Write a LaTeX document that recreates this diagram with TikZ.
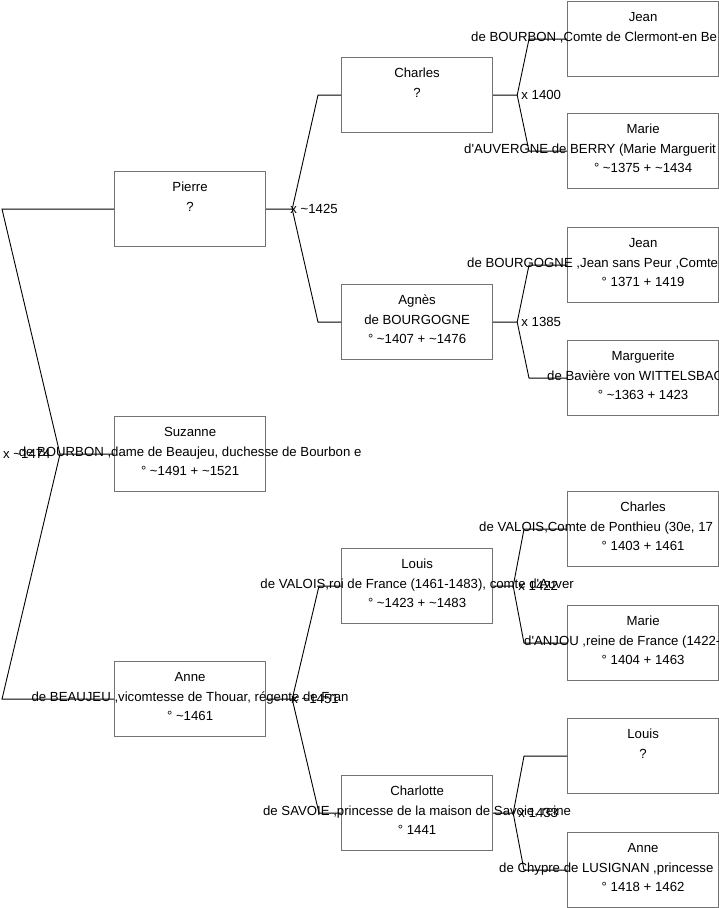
\documentclass[tikz,border=0pt]{standalone}
\usepackage{fontspec}
\setmainfont{Liberation Sans}
\usepackage{tikz}
\usetikzlibrary{positioning}

\tikzset{
  person/.style={draw=black!55, line width=1.2pt, minimum width=151pt,
                 minimum height=75pt, inner sep=0pt, anchor=north west},
  txt/.style={font=\fontsize{13.2}{15}\selectfont, anchor=base, inner sep=0pt},
  wed/.style={font=\fontsize{13.2}{15}\selectfont, anchor=west, inner sep=0pt},
  link/.style={line width=0.9pt, black}
}

\newcommand\ca{\textasciitilde}
\newcommand\qt{\textquotesingle}

% three text lines of one person box
\newcommand\ptext[4]{%
  \node[txt] (#1-a) at ([yshift=-20.5pt]#1.north) {#2};
  \node[txt] (#1-b) at ([yshift=-40pt]#1.north) {#3};
  \node[txt] (#1-c) at ([yshift=-59.5pt]#1.north) {#4};}

% marriage fork: from #1 to fork #2, then to both parents #3 and #4
\newcommand\couple[5]{%
  \draw[link] (#1) -- (#2) -- ([xshift=#5]#3.west) -- (#3.west);
  \draw[link] (#2) -- ([xshift=#5]#4.west) -- (#4.west);}

\begin{document}
\begin{tikzpicture}[x=1pt, y=-1pt]
  \useasboundingbox (0,0) rectangle (719,908);
  \clip (0,0) rectangle (719,908);

  % boxes, generation by generation
  \foreach \nm/\xx/\yy in {pierre/114/171, suzanne/114/416, anne/114/661,
      charles/341/57, agnes/341/284, louis/341/548, charlotte/341/775,
      jeanA/567/1, marieA/567/113, jeanB/567/227, marguerite/567/340,
      charlesB/567/491, marieB/567/605, louisB/567/718, anneB/567/832}
    \node[person] (\nm) at (\xx,\yy) {};

  % names
  \ptext{pierre}{Pierre}{?}{}
  \ptext{suzanne}{Suzanne}{de BOURBON ,dame de Beaujeu, duchesse de Bourbon e}{° \ca1491 + \ca1521}
  \ptext{anne}{Anne}{de BEAUJEU ,vicomtesse de Thouar, régente de Fran}{° \ca1461}
  \ptext{charles}{Charles}{?}{}
  \ptext{agnes}{Agnès}{de BOURGOGNE}{° \ca1407 + \ca1476}
  \ptext{louis}{Louis}{de VALOIS,roi de France (1461-1483), comte d\qt Auver}{° \ca1423 + \ca1483}
  \ptext{charlotte}{Charlotte}{de SAVOIE ,princesse de la maison de Savoie, reine}{° 1441}
  \ptext{jeanA}{Jean}{}{}
  \ptext{marieA}{Marie}{}{° \ca1375 + \ca1434}
  \ptext{jeanB}{Jean}{}{° 1371 + 1419}
  \ptext{marguerite}{Marguerite}{}{° \ca1363 + 1423}
  \ptext{charlesB}{Charles}{}{° 1403 + 1461}
  \ptext{marieB}{Marie}{}{° 1404 + 1463}
  \ptext{louisB}{Louis}{?}{}
  \ptext{anneB}{Anne}{}{° 1418 + 1462}

  % long lines cut by the right edge
  \node[txt, anchor=base west] (jeanA-w) at (471,41) {de BOURBON ,Comte de Clermont-en Be};
  \node[txt, anchor=base west] (marieA-w) at (464,153) {d\qt AUVERGNE de BERRY (Marie Marguerit};
  \node[txt, anchor=base west] (jeanB-w) at (467,267) {de BOURGOGNE ,Jean sans Peur ,Comte};
  \node[txt, anchor=base west] (marguerite-w) at (547,380) {de Bavière von WITTELSBAC};
  \node[txt, anchor=base west] (charlesB-w) at (479,531) {de VALOIS,Comte de Ponthieu (30e, 17};
  \node[txt, anchor=base west] (marieB-w) at (524,645) {d\qt ANJOU ,reine de France (1422-};
  \node[txt, anchor=base west] (anneB-w) at (499,872) {de Chypre de LUSIGNAN ,princesse};

  % forks
  \coordinate[left=54pt of suzanne.west] (fkSuz);
  \coordinate[right=26pt of pierre.east] (fkPierre);
  \coordinate[right=26pt of anne.east] (fkAnne);
  \coordinate[right=24pt of charles.east] (fkCharles);
  \coordinate[right=24pt of agnes.east] (fkAgnes);
  \coordinate[right=20pt of louis.east] (fkLouis);
  \coordinate[right=20pt of charlotte.east] (fkCharlotte);

  \couple{suzanne.west}{fkSuz}{pierre}{anne}{-112pt}
  \couple{pierre.east}{fkPierre}{charles}{agnes}{-23pt}
  \couple{anne.east}{fkAnne}{louis}{charlotte}{-22pt}
  \couple{charles.east}{fkCharles}{jeanA}{marieA}{-38pt}
  \couple{agnes.east}{fkAgnes}{jeanB}{marguerite}{-38pt}
  \couple{louis.east}{fkLouis}{charlesB}{marieB}{-43pt}
  \couple{charlotte.east}{fkCharlotte}{louisB}{anneB}{-43pt}

  % marriage years
  \node[wed] (mSuz) at ([xshift=-57pt]fkSuz) {x \ca1474};
  \node[wed] (mPierre) at ([xshift=-2pt]fkPierre) {x \ca1425};
  \node[wed] (mAnne) at ([xshift=-1pt]fkAnne) {x \ca1451};
  \node[wed] (mCharles) at ([xshift=4pt]fkCharles) {x 1400};
  \node[wed] (mAgnes) at ([xshift=4pt]fkAgnes) {x 1385};
  \node[wed] (mLouis) at ([xshift=5pt]fkLouis) {x 1422};
  \node[wed] (mCharlotte) at ([xshift=5pt]fkCharlotte) {x 1433};
\end{tikzpicture}
\end{document}
